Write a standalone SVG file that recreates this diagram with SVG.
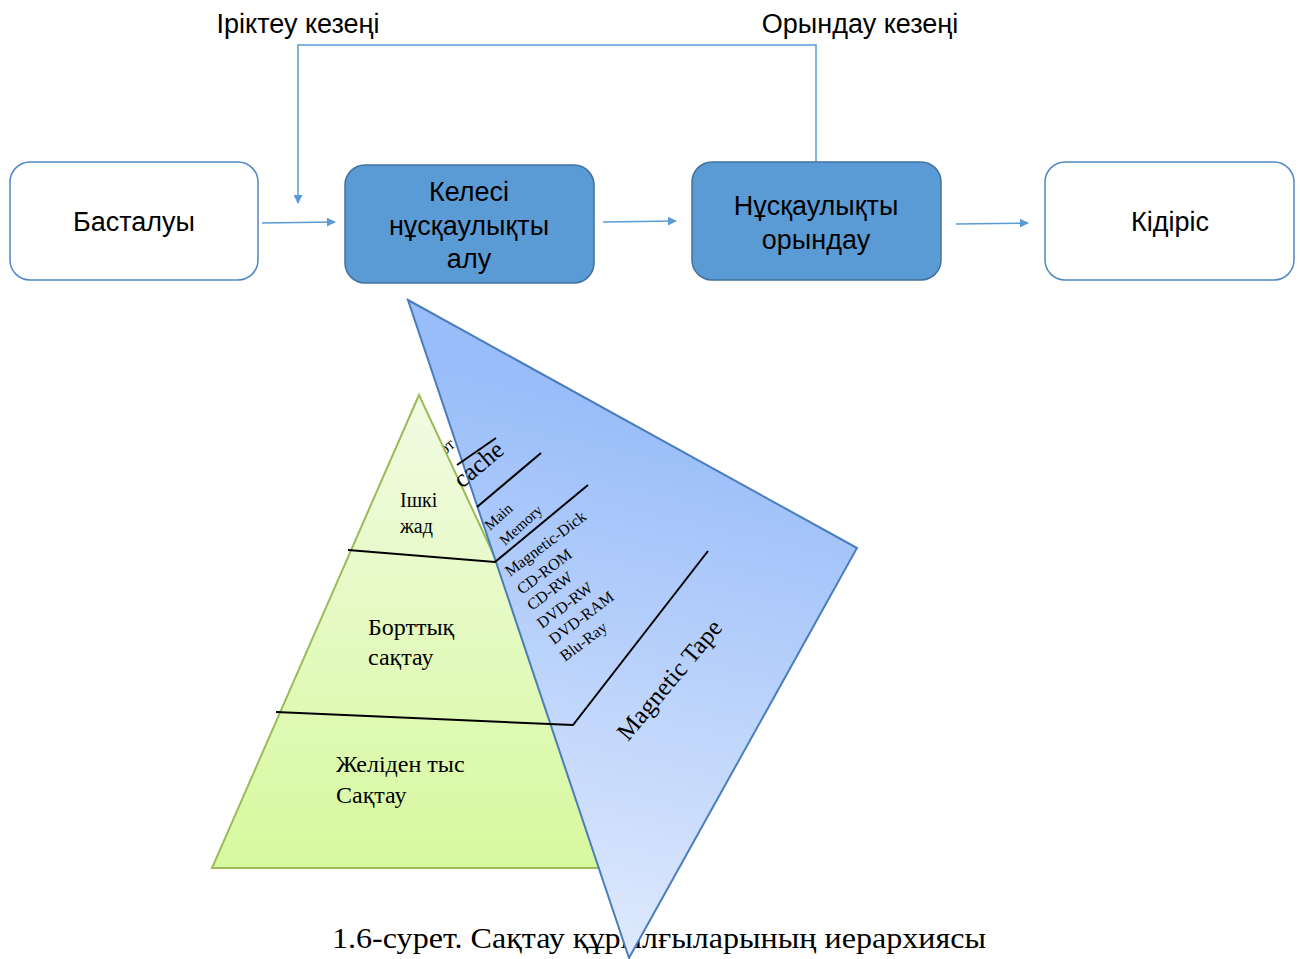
<svg xmlns="http://www.w3.org/2000/svg" width="1300" height="959" viewBox="0 0 1300 959">
<style>
.box{stroke:#4f86c6;stroke-width:1.5}
.w{fill:#ffffff}
.b{fill:#5b9bd5;stroke:#41719c}
.t{font-family:"Liberation Sans",Arial,sans-serif;font-size:27px;fill:#000;text-anchor:middle}
.conn{fill:none;stroke:#5b9bd5;stroke-width:1.5}
.s{font-family:"Liberation Serif","Times New Roman",serif;fill:#000}
.blk{stroke:#000;stroke-width:2;fill:none}
</style>
<defs>
<marker id="ah" viewBox="0 0 10 10" refX="9" refY="5" markerWidth="6" markerHeight="6" orient="auto" markerUnits="strokeWidth">
<path d="M0,0 L10,5 L0,10 z" fill="#5b9bd5"/>
</marker>
<linearGradient id="gg" x1="0" y1="395" x2="0" y2="868" gradientUnits="userSpaceOnUse">
<stop offset="0" stop-color="#f1fbe3"/>
<stop offset="1" stop-color="#d7f99e"/>
</linearGradient>
<linearGradient id="bg" x1="680" y1="420" x2="560" y2="950" gradientUnits="userSpaceOnUse">
<stop offset="0" stop-color="#99bdf9"/>
<stop offset="1" stop-color="#e0eafd"/>
</linearGradient>
</defs>

<text class="t" x="298" y="33">Іріктеу кезеңі</text>
<text class="t" x="860" y="33">Орындау кезеңі</text>

<g id="connectors">
<path class="conn" d="M262,223 L335,222" marker-end="url(#ah)"/>
<path class="conn" d="M603,222 L676,221" marker-end="url(#ah)"/>
<path class="conn" d="M956,224 L1028,223" marker-end="url(#ah)"/>
<path class="conn" d="M816,162 L816,45 L298,45 L298,203" marker-end="url(#ah)"/>
</g>

<g id="n1"><rect class="box w" x="10" y="162" width="248" height="118" rx="20"/><text class="t" x="134" y="231">Басталуы</text></g>
<g id="n2"><rect class="box b" x="345" y="165" width="249" height="118" rx="20"/><text class="t" x="469" y="201">Келесі</text><text class="t" x="469" y="235">нұсқаулықты</text><text class="t" x="469" y="268">алу</text></g>
<g id="n3"><rect class="box b" x="692" y="162" width="249" height="118" rx="20"/><text class="t" x="816" y="215">Нұсқаулықты</text><text class="t" x="816" y="249">орындау</text></g>
<g id="n4"><rect class="box w" x="1045" y="162" width="249" height="118" rx="20"/><text class="t" x="1170" y="231">Кідіріс</text></g>

<text class="s" x="332" y="948" textLength="654" lengthAdjust="spacingAndGlyphs" style="font-size:30px">1.6-сурет. Сақтау құрылғыларының иерархиясы</text>

<text class="s" transform="translate(444,456) rotate(-40)" style="font-size:17px">от</text>

<g id="pyramid">
<polygon points="419,395 212,868 640,868" fill="url(#gg)" stroke="#9bbb59" stroke-width="2"/>
<text class="s" x="400" y="507" style="font-size:20px">Ішкі</text>
<text class="s" x="400" y="533" style="font-size:20px">жад</text>
<text class="s" x="368" y="635" style="font-size:24px">Борттық</text>
<text class="s" x="368" y="665" style="font-size:24px">сақтау</text>
<text class="s" x="336" y="772" style="font-size:24px">Желіден тыс</text>
<text class="s" x="336" y="803" style="font-size:24px">Сақтау</text>
</g>

<g id="wedge">
<polygon points="408,300 857,548 629,958" fill="url(#bg)" stroke="#4a7ebb" stroke-width="2"/>
<text class="s" transform="translate(462,489) rotate(-40)" style="font-size:25px">cache</text>
<text class="s" transform="translate(490,531) rotate(-42)" style="font-size:15px">Main</text>
<text class="s" transform="translate(505,546) rotate(-42)" style="font-size:15px">Memory</text>
<text class="s" transform="translate(510,577) rotate(-37)" style="font-size:16px">Magnetic-Dick</text>
<text class="s" transform="translate(522,595) rotate(-37)" style="font-size:16px">CD-ROM</text>
<text class="s" transform="translate(532,611) rotate(-37)" style="font-size:16px">CD-RW</text>
<text class="s" transform="translate(542,629) rotate(-37)" style="font-size:16px">DVD-RW</text>
<text class="s" transform="translate(554,645) rotate(-37)" style="font-size:16px">DVD-RAM</text>
<text class="s" transform="translate(565,662) rotate(-37)" style="font-size:16px">Blu-Ray</text>
<text class="s" transform="translate(628,742) rotate(-50)" style="font-size:25px">Magnetic  Tape</text>
</g>

<g id="lines">
<path class="blk" d="M457,465 L496,438"/>
<path class="blk" d="M477,507 L541,453"/>
<path class="blk" d="M348,550 L495,562 L588,485"/>
<path class="blk" d="M276,712 L573,725 L708,551"/>
</g>
</svg>
